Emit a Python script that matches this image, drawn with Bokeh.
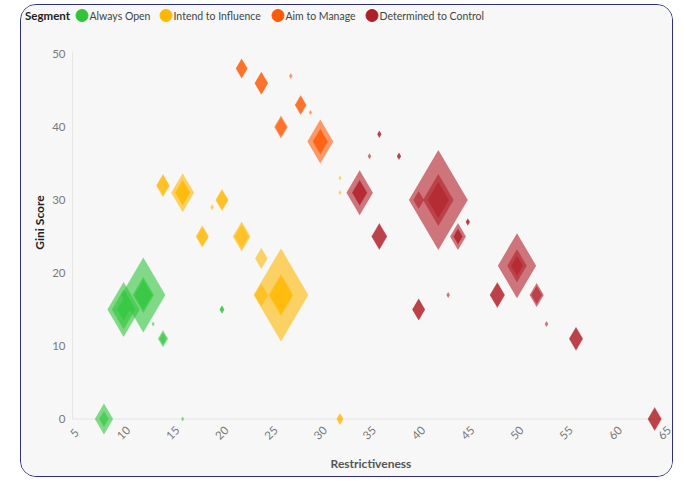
import math
from bokeh.plotting import figure
from bokeh.models import ColumnDataSource, Label, Range1d
from bokeh.embed import file_html
from bokeh.resources import INLINE
from bokeh.core.properties import value

# ---------------- data ----------------
segments = ["Always Open", "Intend to Influence", "Aim to Manage", "Determined to Control"]
seg_colors = ["#2fc53a", "#ffb800", "#ff5a05", "#b01e28"]

# restrictiveness, gini score, marker weight (stacked points share a location)
open_x = [8, 8, 10, 10, 10, 12, 12, 12, 13, 14, 14, 16, 20, 20]
open_y = [0, 0, 15, 15, 15, 17, 17, 17, 13, 11, 11, 0, 15, 15]
open_w = [31, 16, 55, 40, 22, 75, 36, 30, 5, 17, 12, 5, 8, 8]

infl_x = [14, 14, 16, 16, 16, 19, 20, 20, 18, 18, 22, 22, 24, 26, 26, 26, 24, 32, 32, 32, 32]
infl_y = [32, 32, 31, 31, 31, 29, 30, 30, 25, 25, 25, 25, 22, 17, 17, 17, 17, 0, 0, 33, 31]
infl_w = [23, 21, 39, 26, 24, 6, 22, 20, 22, 20, 30, 24, 21, 93, 42, 38, 23, 12, 10, 5, 5]

mng_x = [22, 22, 24, 24, 27, 28, 28, 29, 26, 26, 30, 30, 30]
mng_y = [48, 48, 46, 46, 47, 43, 43, 42, 40, 40, 38, 38, 38]
mng_w = [20, 19, 23, 22, 6, 20, 18, 5, 23, 19, 44, 26, 24]

ctrl_x = [36, 36, 35, 38, 38, 34, 34, 34, 36, 36, 42, 42, 42, 40, 45, 45, 44, 44, 44,
          43, 40, 40, 48, 48, 50, 50, 50, 52, 52, 53, 56, 56, 64, 64]
ctrl_y = [39, 39, 36, 36, 36, 31, 31, 31, 25, 25, 30, 30, 30, 30, 27, 27, 25, 25, 25,
          17, 15, 15, 17, 17, 21, 21, 21, 17, 17, 13, 11, 11, 0, 0]
ctrl_w = [7, 7, 6, 7, 7, 45, 26, 24, 27, 25, 100, 52, 36, 18, 7, 7, 27, 16, 14,
          6, 22, 21, 26, 24, 65, 33, 20, 24, 18, 6, 24, 22, 24, 22]

x_ticks = [5, 10, 15, 20, 25, 30, 35, 40, 45, 50, 55, 60, 65]
y_ticks = [0, 10, 20, 30, 40, 50]

series = [(open_x, open_y, open_w), (infl_x, infl_y, infl_w),
          (mng_x, mng_y, mng_w), (ctrl_x, ctrl_y, ctrl_w)]

# ---------------- layout (frame covers the whole canvas) ----------------
FONT = "Lato"
CW, CH = 653, 473
PX_X = 593 / 60.3          # pixels per x unit
PX_Y = 7.30                # pixels per y unit
AX_LEFT_PX = 51            # canvas px where the y axis line sits
Y0_PX = 413.5              # canvas px (from top) of gini = 0
X_AXIS_START = 4.8
Y_AXIS_TOP = 50.3
X0 = X_AXIS_START - AX_LEFT_PX / PX_X
X1 = X0 + CW / PX_X
Y1 = Y0_PX / PX_Y
Y0 = Y1 - CH / PX_Y
ASPECT = 1.7

# legend placement in canvas pixels (from top-left)
LEG_DOT_X = [60.5, 144.5, 256.5, 350.5]
LEG_TEXT_GAP = 7.5
LEG_Y = 10

p = figure(width=CW, height=CH, x_range=Range1d(X0, X1), y_range=Range1d(Y0, Y1),
           x_axis_type=None, y_axis_type=None, min_border=0,
           output_backend="svg", toolbar_location=None)
p.extra_x_ranges = {"px": Range1d(0, CW)}
p.extra_y_ranges = {"px": Range1d(CH, 0)}
p.background_fill_color = "#f7f7f7"
p.border_fill_color = "#f7f7f7"
p.outline_line_color = None
p.grid.visible = False
p.styles = {"border": "1.5px solid #2d2f7c", "border-radius": "16px",
            "overflow": "hidden", "margin-left": "20px", "margin-top": "4px"}

# axis lines
p.segment(x0=[X_AXIS_START, X_AXIS_START], y0=[0, 0],
          x1=[x_ticks[-1], X_AXIS_START], y1=[0, Y_AXIS_TOP],
          line_color="#e6e6e6", line_width=1)

# diamonds
for (xs, ys, ws), col in zip(series, seg_colors):
    order = sorted(range(len(xs)), key=lambda i: -ws[i])
    pxs, pys = [], []
    for i in order:
        dx = ws[i] / (2 * ASPECT) / PX_X
        dy = ws[i] / 2 / PX_Y
        pxs.append([xs[i], xs[i] + dx, xs[i], xs[i] - dx])
        pys.append([ys[i] + dy, ys[i], ys[i] - dy, ys[i]])
    src = ColumnDataSource(dict(xs=pxs, ys=pys))
    p.patches("xs", "ys", source=src, fill_color=col, fill_alpha=0.6,
              line_color=None)

# tick labels
p.text(x=x_ticks, y=[0] * len(x_ticks), text=[str(t) for t in x_ticks],
       angle=math.pi / 4, x_offset=0, y_offset=14,
       text_align="center", text_baseline="middle",
       text_font=value(FONT), text_font_size="11.5px", text_color="#7a7a7a")
p.text(x=[X_AXIS_START] * len(y_ticks), y=y_ticks, text=[str(t) for t in y_ticks],
       x_offset=-7, text_align="right", text_baseline="middle",
       text_font=value(FONT), text_font_size="11.5px", text_color="#7a7a7a")

# axis titles
p.add_layout(Label(x=349.5, y=15.5, x_units="screen", y_units="screen",
                   text="Restrictiveness", text_font=FONT, text_font_size="12px",
                   text_font_style="bold", text_color="#555555",
                   text_align="center", text_baseline="middle"))
p.add_layout(Label(x=17.5, y=256, x_units="screen", y_units="screen",
                   text="Gini Score", angle=math.pi / 2, text_font=FONT,
                   text_font_size="12px", text_font_style="bold",
                   text_color="#222222", text_align="center",
                   text_baseline="middle"))

# legend (drawn in canvas-pixel coordinates)
p.scatter(x=LEG_DOT_X, y=[LEG_Y] * len(LEG_DOT_X), marker="circle", size=12,
          fill_color=seg_colors, line_color=seg_colors,
          x_range_name="px", y_range_name="px")
p.text(x=[d + LEG_TEXT_GAP for d in LEG_DOT_X], y=[LEG_Y] * len(LEG_DOT_X),
       text=segments, text_align="left", text_baseline="middle",
       text_font=value(FONT), text_font_size="10.5px", text_color="#444444",
       x_range_name="px", y_range_name="px")
p.add_layout(Label(x=3.5, y=CH - LEG_Y, x_units="screen", y_units="screen",
                   text="Segment", text_font=FONT, text_font_size="11.5px",
                   text_font_style="bold", text_color="#222222",
                   text_align="left", text_baseline="middle"))

open("out.html", "w").write(file_html(p, INLINE))
